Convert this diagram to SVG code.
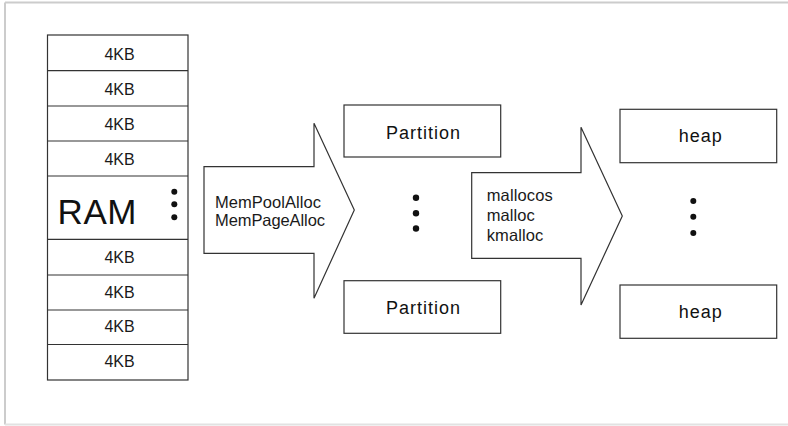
<svg xmlns="http://www.w3.org/2000/svg" width="788" height="426" viewBox="0 0 788 426">
  <style>
    .box { fill: #ffffff; stroke: #333333; stroke-width: 1.2; }
    .rule { stroke: #333333; stroke-width: 1.2; }
    .arrow { fill: #ffffff; stroke: #333333; stroke-width: 1.2; stroke-linejoin: miter; }
    .cell { font-family: "Liberation Sans", Arial, sans-serif; font-size: 16px; fill: #1a1a1a; text-anchor: middle; }
    .label { font-family: "Liberation Sans", Arial, sans-serif; font-size: 16.5px; fill: #1a1a1a; }
    .title { font-family: "Liberation Sans", Arial, sans-serif; font-size: 18px; fill: #111111; }
    .big { font-family: "Liberation Sans", Arial, sans-serif; font-size: 35px; fill: #111111; }
    .dot { fill: #111111; }
  </style>

  <!-- outer frame -->
  <rect width="788" height="426" fill="#ffffff"/>
  <line x1="5" y1="2.5" x2="788" y2="2.5" stroke="#cccccc" stroke-width="2"/>
  <line x1="5" y1="2.5" x2="5" y2="424.5" stroke="#cccccc" stroke-width="2"/>
  <line x1="5" y1="424.5" x2="788" y2="424.5" stroke="#e2e2e2" stroke-width="2"/>

  <!-- RAM column made of 4KB pages -->
  <g id="ram">
    <rect class="box" x="47.5" y="35" width="140.5" height="345"/>
    <line class="rule" x1="47.5" y1="70.7" x2="188" y2="70.7"/>
    <line class="rule" x1="47.5" y1="106" x2="188" y2="106"/>
    <line class="rule" x1="47.5" y1="141" x2="188" y2="141"/>
    <line class="rule" x1="47.5" y1="176" x2="188" y2="176"/>
    <line class="rule" x1="47.5" y1="239.3" x2="188" y2="239.3"/>
    <line class="rule" x1="47.5" y1="275" x2="188" y2="275"/>
    <line class="rule" x1="47.5" y1="310" x2="188" y2="310"/>
    <line class="rule" x1="47.5" y1="344.5" x2="188" y2="344.5"/>
    <text class="cell" x="119.5" y="59.5">4KB</text>
    <text class="cell" x="119.5" y="94.5">4KB</text>
    <text class="cell" x="119.5" y="130">4KB</text>
    <text class="cell" x="119.5" y="165">4KB</text>
    <text class="big" x="57.5" y="224.3" textLength="79" lengthAdjust="spacing">RAM</text>
    <circle class="dot" cx="174.3" cy="191.7" r="3"/>
    <circle class="dot" cx="174.3" cy="204.3" r="3"/>
    <circle class="dot" cx="174.3" cy="217.3" r="3"/>
    <text class="cell" x="119.5" y="262.5">4KB</text>
    <text class="cell" x="119.5" y="297.5">4KB</text>
    <text class="cell" x="119.5" y="332">4KB</text>
    <text class="cell" x="119.5" y="367">4KB</text>
  </g>

  <!-- allocation arrows -->
  <g id="connectors">
    <g id="arrow-page-alloc">
      <polygon class="arrow" points="204,166.7 314,166.7 314,123.3 354.3,210 314,298.3 314,253.3 204,253.3"/>
      <text class="label" x="215" y="207.7" textLength="106" lengthAdjust="spacing">MemPoolAlloc</text>
      <text class="label" x="215" y="225.5" textLength="110" lengthAdjust="spacing">MemPageAlloc</text>
    </g>
    <g id="arrow-malloc">
      <polygon class="arrow" points="471.7,172.7 581,172.7 581,127.3 622.3,216 581,305 581,258.3 471.7,258.3"/>
      <text class="label" x="486.7" y="201" textLength="66" lengthAdjust="spacing">mallocos</text>
      <text class="label" x="486.7" y="221.3" textLength="48" lengthAdjust="spacing">malloc</text>
      <text class="label" x="486.7" y="241" textLength="56.5" lengthAdjust="spacing">kmalloc</text>
    </g>
  </g>

  <!-- partitions -->
  <g id="partition-1">
    <rect class="box" x="344" y="105" width="156.7" height="52"/>
    <text class="title" x="386" y="138.5" textLength="74" lengthAdjust="spacing">Partition</text>
  </g>
  <g id="partition-dots">
    <circle class="dot" cx="416" cy="197.7" r="3.2"/>
    <circle class="dot" cx="416" cy="213.3" r="3.2"/>
    <circle class="dot" cx="416" cy="228.5" r="3.2"/>
  </g>
  <g id="partition-2">
    <rect class="box" x="344" y="280.7" width="156.7" height="52.6"/>
    <text class="title" x="386" y="314.3" textLength="74" lengthAdjust="spacing">Partition</text>
  </g>

  <!-- heaps -->
  <g id="heap-1">
    <rect class="box" x="620" y="109.3" width="156.7" height="53.4"/>
    <text class="title" x="678.7" y="141.7" textLength="43" lengthAdjust="spacing">heap</text>
  </g>
  <g id="heap-dots">
    <circle class="dot" cx="693.3" cy="201" r="3"/>
    <circle class="dot" cx="693.3" cy="216.7" r="3"/>
    <circle class="dot" cx="693.3" cy="233" r="3"/>
  </g>
  <g id="heap-2">
    <rect class="box" x="620" y="285" width="156.7" height="53.3"/>
    <text class="title" x="678.7" y="318" textLength="43" lengthAdjust="spacing">heap</text>
  </g>
</svg>
